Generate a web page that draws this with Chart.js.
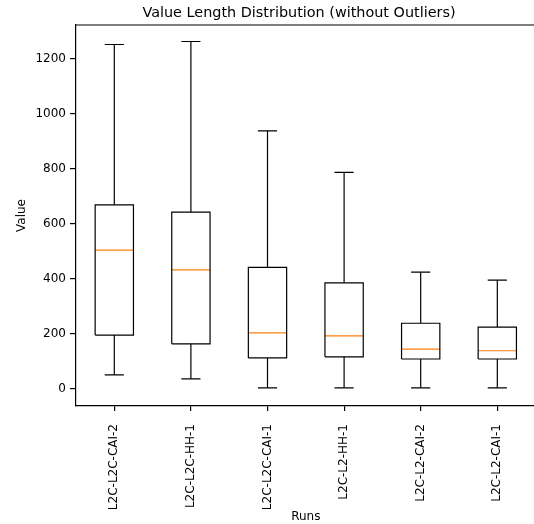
<!DOCTYPE html>
<html>
<head>
<meta charset="utf-8">
<script src="https://cdn.jsdelivr.net/npm/chart.js@4.4.1/dist/chart.umd.min.js"></script>
<style>
html,body{margin:0;padding:0;background:#fff;overflow:hidden;}
#wrap{position:relative;width:543px;height:524px;}
#title{position:absolute;top:3px;left:0;width:598px;text-align:center;font-family:"DejaVu Sans";font-size:14.4px;color:#000;white-space:nowrap;line-height:18px;}
</style>
</head>
<body>
<div id="wrap">
<canvas id="c" width="543" height="524"></canvas>
<div id="title">Value Length Distribution (without Outliers)</div>
</div>
<script>
const categories = ["L2C-L2C-CAI-2","L2C-L2C-HH-1","L2C-L2C-CAI-1","L2C-L2-HH-1","L2C-L2-CAI-2","L2C-L2-CAI-1"];
const whiskerLow  = [50, 36, 3, 3, 3, 3];
const q1Values    = [195, 163, 112, 116, 108, 108];
const medians     = [504, 432, 203, 192, 144, 138];
const q3Values    = [669, 642, 441, 385, 238, 224];
const whiskerHigh = [1252, 1263, 938, 787, 424, 395];
const yTickValues = [0, 200, 400, 600, 800, 1000, 1200];

const BOX_HALF = 0.25, CAP_HALF = 0.125;
const boxPts = [], whiskerPts = [], capPts = [], medPts = [];
categories.forEach((c, k) => {
  const x = k + 1;
  boxPts.push({x:x-BOX_HALF,y:q1Values[k]},{x:x+BOX_HALF,y:q1Values[k]},{x:x+BOX_HALF,y:q3Values[k]},{x:x-BOX_HALF,y:q3Values[k]},{x:x-BOX_HALF,y:q1Values[k]},{x:x,y:null});
  whiskerPts.push({x:x,y:q1Values[k]},{x:x,y:whiskerLow[k]},{x:x,y:null},{x:x,y:q3Values[k]},{x:x,y:whiskerHigh[k]},{x:x,y:null});
  capPts.push({x:x-CAP_HALF,y:whiskerLow[k]},{x:x+CAP_HALF,y:whiskerLow[k]},{x:x,y:null},{x:x-CAP_HALF,y:whiskerHigh[k]},{x:x+CAP_HALF,y:whiskerHigh[k]},{x:x,y:null});
  medPts.push({x:x-BOX_HALF,y:medians[k]},{x:x+BOX_HALF,y:medians[k]},{x:x,y:null});
});

const lineDs = (data, color) => ({data, borderColor:color, borderWidth:1.2, pointRadius:0, tension:0, spanGaps:false, fill:false, borderCapStyle:'butt', borderJoinStyle:'miter'});

Chart.defaults.font.family = "DejaVu Sans";
Chart.defaults.font.size = 12;
Chart.defaults.color = "#000";

new Chart(document.getElementById('c'), {
  type: 'line',
  data: { datasets: [
    lineDs(boxPts, '#000'),
    lineDs(whiskerPts, '#000'),
    lineDs(capPts, '#000'),
    lineDs(medPts, '#ff7f0e')
  ]},
  options: {
    responsive:false, animation:false,
    layout:{padding:{left:0,right:7.4,top:25,bottom:0}},
    plugins:{legend:{display:false}, tooltip:{enabled:false}, title:{display:false}},
    scales:{
      x:{
        type:'linear', min:0.5, max:6.5,
        afterBuildTicks: s => { s.ticks = categories.map((c,k)=>({value:k+1})); },
        afterFit: s => { s.height = 118; },
        ticks:{ callback:(v)=>categories[v-1] ?? '', maxRotation:90, minRotation:90, autoSkip:false, padding:13, font:{size:12} },
        grid:{ drawOnChartArea:false, drawTicks:true, tickLength:5, color:'#000', lineWidth:1.2 },
        border:{ display:true, color:'#000', width:1.2 },
        title:{ display:true, text:'Runs', font:{size:12}, padding:{top:0,bottom:0.3} }
      },
      y:{
        type:'linear', min:-63, max:1323,
        afterBuildTicks: s => { s.ticks = yTickValues.map(v=>({value:v})); },
        afterFit: s => { s.width = 76; },
        ticks:{ padding:4, font:{size:12}, callback:(v)=>String(v) },
        grid:{ drawOnChartArea:false, drawTicks:true, tickLength:6, color:'#000', lineWidth:1.2 },
        border:{ display:true, color:'#000', width:1.2 },
        title:{ display:true, text:'Value', font:{size:12}, padding:{top:14.3,bottom:0} }
      }
    }
  },
  plugins:[{
    id:'frame',
    afterDraw(chart){
      const {ctx, chartArea:a} = chart;
      ctx.save(); ctx.strokeStyle='#000'; ctx.lineWidth=1.2;
      ctx.beginPath(); ctx.moveTo(a.left,a.top); ctx.lineTo(a.right,a.top); ctx.stroke();
      ctx.restore();
    }
  }]
});
</script>
</body>
</html>
